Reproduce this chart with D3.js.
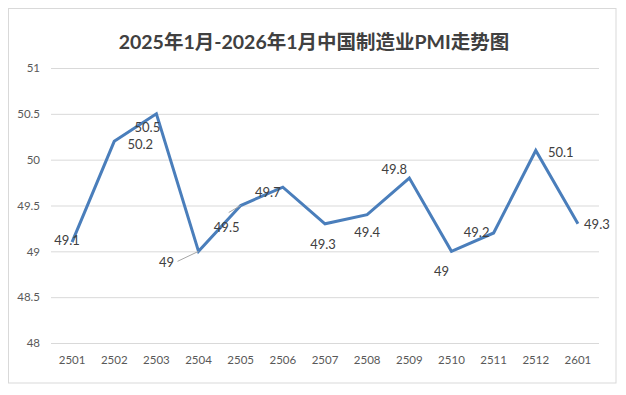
<!DOCTYPE html>
<html><head><meta charset="utf-8">
<script src="https://cdn.jsdelivr.net/npm/d3@7"></script>
<style>
body{margin:0;background:#fff;}
text{font-family:Lato,"Noto Sans CJK SC",sans-serif;}
</style></head>
<body><svg id="c" width="626" height="395"></svg>
<script>
const categories = ["2501","2502","2503","2504","2505","2506","2507","2508","2509","2510","2511","2512","2601"];
const pmi = [49.1,50.2,50.5,49.0,49.5,49.7,49.3,49.4,49.8,49.0,49.2,50.1,49.3];
const pointLabels = ["49.1","50.2","50.5","49","49.5","49.7","49.3","49.4","49.8","49","49.2","50.1","49.3"];
const yTicks = [48,48.5,49,49.5,50,50.5,51];
const yTickLabels = ["48","48.5","49","49.5","50","50.5","51"];
const title = "2025年1月-2026年1月中国制造业PMI走势图";
// label offsets (dx, dy) from each point, in pixels
const labelOffsets = [[-5,3],[26,8],[-9,18],[-32,15.5],[-14,26.5],[-15,10],[-2,25.5],[0,22.5],[-15,-4.5],[-10,24.5],[-17,3.5],[25,6],[19,5.5]];
const leaders = {3:[[-21,10],[0,0]], 4:[[-12,7],[0,0]]};

const svg = d3.select("#c");
svg.append("rect").attr("x",8.5).attr("y",8.5).attr("width",607.5).attr("height",374.5)
  .attr("fill","#fff").attr("stroke","#d9d9d9").attr("stroke-width",1);

const x = d3.scaleBand().domain(categories).range([51,599]);
const y = d3.scaleLinear().domain([48,51]).range([343,68]);

svg.append("text").attr("x",314).attr("y",49).attr("text-anchor","middle")
  .attr("font-size",19.5).attr("font-weight","bold").attr("fill","#404040").text(title);

const gy = svg.append("g").attr("transform","translate(51,0)")
  .call(d3.axisLeft(y).tickValues(yTicks).tickFormat((d,i)=>yTickLabels[i]).tickSize(-548).tickPadding(11));
gy.select(".domain").remove();
gy.selectAll(".tick line").attr("stroke","#d9d9d9").attr("stroke-width",1);
gy.selectAll(".tick text").attr("fill","#595959").attr("font-size",11.5).attr("font-family","Lato,sans-serif");

const gx = svg.append("g").attr("transform","translate(0,343)")
  .call(d3.axisBottom(x).tickSize(0).tickPadding(13));
gx.select(".domain").remove();
gx.selectAll(".tick text").attr("fill","#595959").attr("font-size",11.5).attr("font-family","Lato,sans-serif");

const line = d3.line().x((d,i)=>x(categories[i])+x.bandwidth()/2).y(d=>y(d));
svg.append("path").datum(pmi).attr("d",line).attr("fill","none")
  .attr("stroke","#4a7ebb").attr("stroke-width",3).attr("stroke-linejoin","miter");

Object.entries(leaders).forEach(([i,pts])=>{
  const px = x(categories[i])+x.bandwidth()/2, py = y(pmi[i]);
  svg.append("line").attr("x1",px+pts[0][0]).attr("y1",py+pts[0][1]).attr("x2",px+pts[1][0]).attr("y2",py+pts[1][1])
    .attr("stroke","#a6a6a6").attr("stroke-width",1);
});

svg.append("g").selectAll("text").data(pmi).join("text")
  .attr("x",(d,i)=>x(categories[i])+x.bandwidth()/2+labelOffsets[i][0])
  .attr("y",(d,i)=>y(d)+labelOffsets[i][1])
  .attr("text-anchor","middle").attr("font-size",13).attr("fill","#404040")
  .text((d,i)=>pointLabels[i]);
</script></body></html>
